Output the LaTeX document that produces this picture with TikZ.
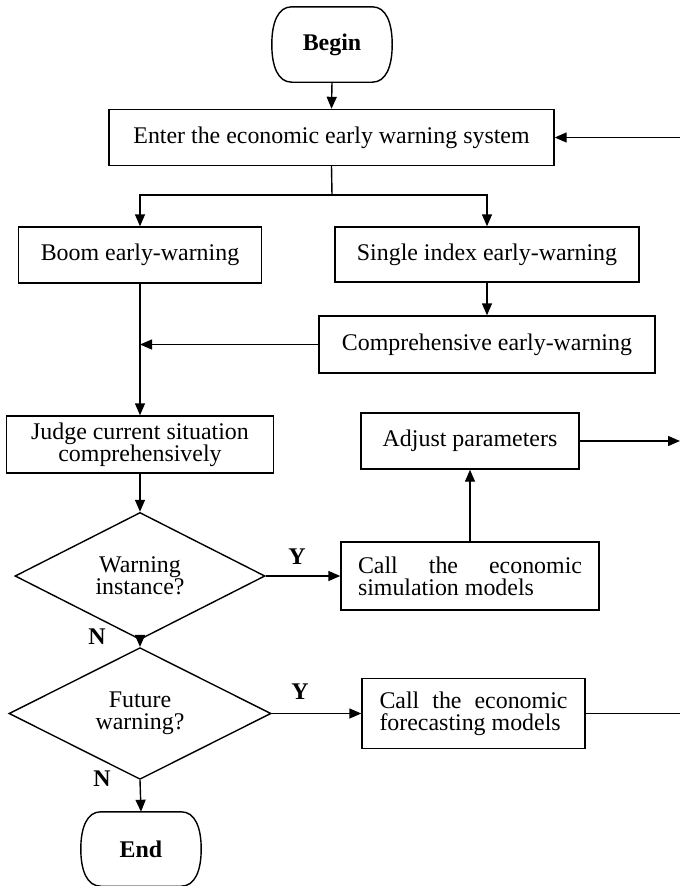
\documentclass[tikz,border=0pt]{standalone}
\usepackage{fontspec}
\setmainfont{Liberation Serif}
\usetikzlibrary{shapes.geometric,arrows.meta}

\newcommand*{\chartfont}{\fontsize{23.9}{22}\selectfont}

% outline of a begin/end node: flat top and bottom, bowed sides
\newcommand*{\termoutline}[1]{%
    \draw[plain] ([xshift=20pt]#1.north west) -- ([xshift=-20pt]#1.north east)
        .. controls ([xshift=-6pt]#1.north east) and ([yshift=-16pt]#1.north east) .. (#1.east)
        .. controls ([yshift=16pt]#1.south east) and ([xshift=-6pt]#1.south east) .. ([xshift=-20pt]#1.south east)
        -- ([xshift=20pt]#1.south west)
        .. controls ([xshift=6pt]#1.south west) and ([yshift=16pt]#1.south west) .. (#1.west)
        .. controls ([yshift=-16pt]#1.north west) and ([xshift=6pt]#1.north west) .. ([xshift=20pt]#1.north west)
        -- cycle;}

\tikzset{
    box/.style={draw,line width=1.4pt,inner sep=0pt,align=center},
    terminal/.style={inner sep=0pt,minimum width=120pt,minimum height=75pt,font=\chartfont\bfseries},
    decision/.style={draw,line width=1.4pt,diamond,inner sep=0pt,align=center},
    flow/.style={line width=1.4pt,-{Triangle[length=12pt,width=10pt]}},
    plain/.style={line width=1.4pt},
    yesno/.style={font=\chartfont\bfseries}
}

\begin{document}
\begin{tikzpicture}[x=1pt,y=-1pt,font=\chartfont]
    \useasboundingbox (0,0) rectangle (680,886);

    % top of the system
    \node[terminal] (begin) at (332,44.5) {Begin};
    \termoutline{begin}
    \node[box,minimum width=445pt,minimum height=56pt] (enter) at (331.5,137.5)
        {Enter the economic early warning system};

    % the two early-warning branches
    \node[box,minimum width=243pt,minimum height=56pt] (boom) at (140,255) {Boom early-warning};
    \node[box,minimum width=304pt,minimum height=55pt] (single) at (487,254.5) {Single index early-warning};
    \node[box,minimum width=336pt,minimum height=57pt] (comp) at (487,344.5) {Comprehensive early-warning};

    \node[box,minimum width=267pt,minimum height=57pt] (judge) at (140,444.5)
        {Judge current situation\\comprehensively};
    \node[box,minimum width=218pt,minimum height=56pt] (adjust) at (470,441) {Adjust parameters};

    % decisions
    \node[decision,minimum width=250pt,minimum height=111pt] (warn) at (140,576) {Warning\\instance?};
    \node[box,minimum width=258pt,minimum height=68pt,align=left] (sim) at (470,576)
        {\makebox[224pt][s]{Call the economic}\\simulation models};
    \node[decision,minimum width=262pt,minimum height=116pt] (future) at (140,713.5) {Future\\warning?};
    \node[box,minimum width=223pt,minimum height=70pt,align=left] (fore) at (473.5,713.5)
        {\makebox[188pt][s]{Call the economic}\\forecasting models};

    \node[terminal,minimum height=74pt] (end) at (141,849) {End};
    \termoutline{end}

    \coordinate (split) at (332,195);
    \coordinate (loopin) at (680,137.5);
    \coordinate (adjout) at (680,441);
    \coordinate (foreout) at (680,713.5);

    % connectors
    \draw[flow] (begin.south) -- (enter.north);
    \draw[flow] (loopin) -- (enter.east);
    \draw[plain] (enter.south) -- (split);
    \draw[flow] (split) -| (boom.north);
    \draw[flow] (split) -| (single.north);
    \draw[flow] (single.south) -- (comp.north);
    \draw[flow] (comp.west) -- (comp.west -| boom.south);
    \draw[flow] (boom.south) -- (judge.north);
    \draw[flow] (judge.south) -- (warn.north);
    \draw[flow] (warn.east) -- (sim.west);
    \draw[flow] (sim.north) -- (adjust.south);
    \draw[flow] (adjust.east) -- (adjout);
    \draw[flow] (warn.south) -- (future.north);
    \draw[flow] (future.east) -- (fore.west);
    \draw[plain] (fore.east) -- (foreout);
    \draw[flow] (future.south) -- (end.north);

    \node[yesno] (y1) at (297,557) {Y};
    \node[yesno] (n1) at (97,637) {N};
    \node[yesno] (y2) at (300,692) {Y};
    \node[yesno] (n2) at (102,779) {N};

\end{tikzpicture}
\end{document}
